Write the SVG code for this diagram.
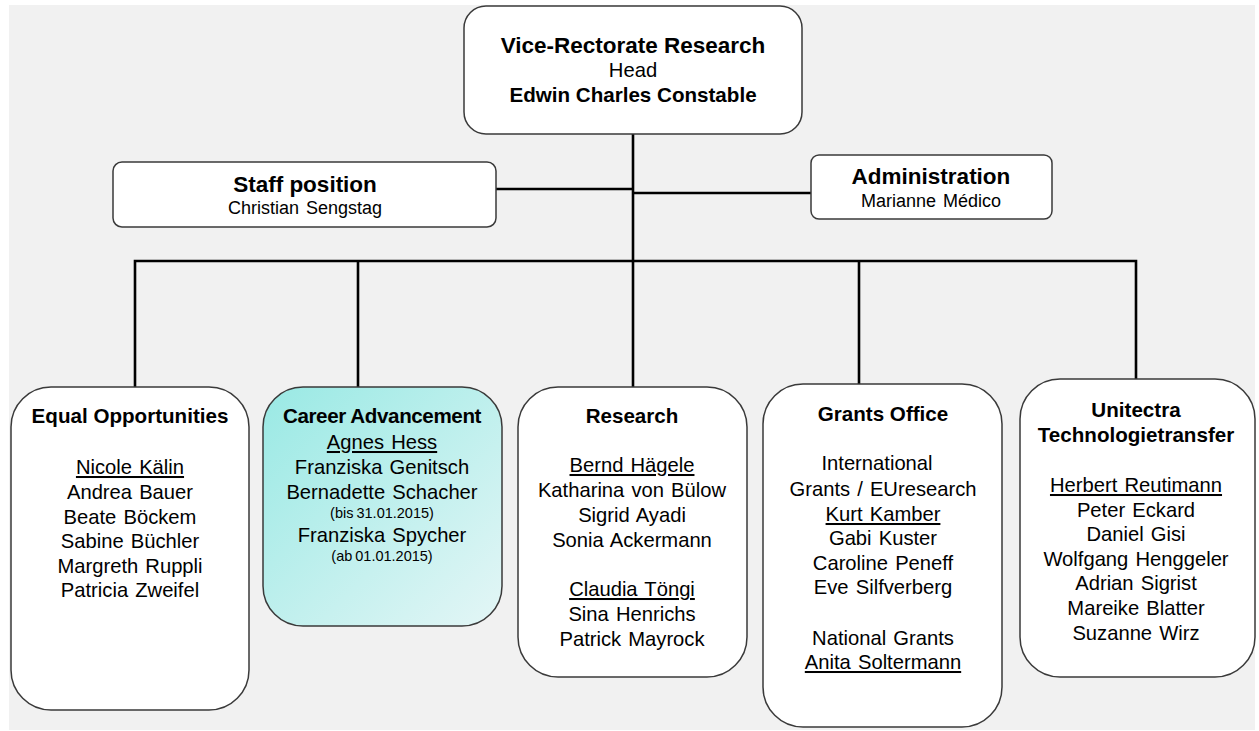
<svg xmlns="http://www.w3.org/2000/svg" width="1259" height="731" viewBox="0 0 1259 731">
<defs>
<linearGradient id="cyan" x1="0" y1="0" x2="1" y2="1">
<stop offset="0" stop-color="#99e9e4"/>
<stop offset="1" stop-color="#e4f6f6"/>
</linearGradient>
<style>
.box{fill:#fff;stroke:#3a3a3a;stroke-width:1.5}
.con{stroke:#000;stroke-width:2.6;fill:none}
text{font-family:"Liberation Sans",Arial,sans-serif;fill:#000;text-anchor:middle}
.t{font-weight:bold;font-size:20.6px}
.tb{font-weight:bold;font-size:22.5px}
.n{font-size:20.2px;word-spacing:1.5px}
.s{font-size:18px;word-spacing:2px}
.sm{font-size:14.5px;word-spacing:-1px}
.u{text-decoration:underline}
</style>
</defs>
<rect x="9" y="5" width="1246" height="725" fill="#f1f1f1"/>
<g id="connectors">
<line class="con" x1="633" y1="134" x2="633" y2="262"/>
<line class="con" x1="496" y1="189" x2="633" y2="189"/>
<line class="con" x1="633" y1="193" x2="811" y2="193"/>
<polyline class="con" points="135,387 135,261 1136,261 1136,379"/>
<line class="con" x1="358" y1="261" x2="358" y2="387"/>
<line class="con" x1="633" y1="261" x2="633" y2="387"/>
<line class="con" x1="859" y1="261" x2="859" y2="384"/>
</g>
<g id="vice-rectorate">
<rect class="box" x="464" y="6" width="338" height="128" rx="22"/>
<text class="tb" x="633" y="53">Vice-Rectorate Research</text>
<text class="n" x="633" y="77">Head</text>
<text class="t" x="633" y="102">Edwin Charles Constable</text>
</g>
<g id="staff-position">
<rect class="box" x="113" y="162" width="383" height="65" rx="9"/>
<text class="tb" x="305" y="192">Staff position</text>
<text class="s" x="305" y="214">Christian Sengstag</text>
</g>
<g id="administration">
<rect class="box" x="811" y="155" width="241" height="64" rx="8"/>
<text class="tb" x="931" y="184">Administration</text>
<text class="s" x="931" y="207">Marianne Médico</text>
</g>
<g id="equal-opportunities">
<rect class="box" x="11" y="387" width="238" height="323" rx="40"/>
<text class="t" x="130" y="423">Equal Opportunities</text>
<text class="n u" x="130" y="474">Nicole Kälin</text>
<text class="n" x="130" y="499">Andrea Bauer</text>
<text class="n" x="130" y="524">Beate Böckem</text>
<text class="n" x="130" y="548">Sabine Büchler</text>
<text class="n" x="130" y="573">Margreth Ruppli</text>
<text class="n" x="130" y="597">Patricia Zweifel</text>
</g>
<g id="career-advancement">
<rect class="box" x="263" y="387" width="239" height="239" rx="40" style="fill:url(#cyan)"/>
<text class="t" x="382" y="423" letter-spacing="-0.4">Career Advancement</text>
<text class="n u" x="382" y="449">Agnes Hess</text>
<text class="n" x="382" y="474">Franziska Genitsch</text>
<text class="n" x="382" y="499">Bernadette Schacher</text>
<text class="sm" x="382" y="518">(bis 31.01.2015)</text>
<text class="n" x="382" y="542">Franziska Spycher</text>
<text class="sm" x="382" y="561">(ab 01.01.2015)</text>
</g>
<g id="research">
<rect class="box" x="518" y="387" width="229" height="290" rx="40"/>
<text class="t" x="632" y="423">Research</text>
<text class="n u" x="632" y="472">Bernd Hägele</text>
<text class="n" x="632" y="497">Katharina von Bülow</text>
<text class="n" x="632" y="522">Sigrid Ayadi</text>
<text class="n" x="632" y="547">Sonia Ackermann</text>
<text class="n u" x="632" y="596">Claudia Töngi</text>
<text class="n" x="632" y="621">Sina Henrichs</text>
<text class="n" x="632" y="646">Patrick Mayrock</text>
</g>
<g id="grants-office">
<rect class="box" x="763" y="384" width="239" height="343" rx="40"/>
<text class="t" x="883" y="421">Grants Office</text>
<text class="n" x="877" y="470">International</text>
<text class="n" x="883" y="496">Grants / EUresearch</text>
<text class="n u" x="883" y="521">Kurt Kamber</text>
<text class="n" x="883" y="545">Gabi Kuster</text>
<text class="n" x="883" y="570">Caroline Peneff</text>
<text class="n" x="883" y="594">Eve Silfverberg</text>
<text class="n" x="883" y="645">National Grants</text>
<text class="n u" x="883" y="669">Anita Soltermann</text>
</g>
<g id="unitectra">
<rect class="box" x="1020" y="379" width="235" height="298" rx="40"/>
<text class="t" x="1136" y="417">Unitectra</text>
<text class="t" x="1136" y="442">Technologietransfer</text>
<text class="n u" x="1136" y="492">Herbert Reutimann</text>
<text class="n" x="1136" y="517">Peter Eckard</text>
<text class="n" x="1136" y="541">Daniel Gisi</text>
<text class="n" x="1136" y="566">Wolfgang Henggeler</text>
<text class="n" x="1136" y="590">Adrian Sigrist</text>
<text class="n" x="1136" y="615">Mareike Blatter</text>
<text class="n" x="1136" y="640">Suzanne Wirz</text>
</g>
</svg>
